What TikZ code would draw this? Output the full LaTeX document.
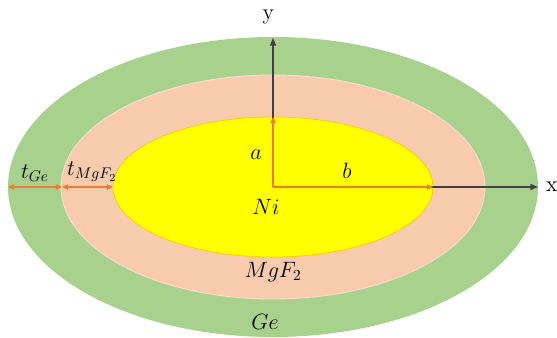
\documentclass[tikz,border=0pt]{standalone}
\usepackage{amsmath}
\usepackage{xcolor}
\usepackage{tikz}
\usetikzlibrary{positioning, arrows.meta}

\definecolor{geGreen}{RGB}{169,209,142}
\definecolor{mgPeach}{RGB}{248,203,173}
\definecolor{niYellow}{RGB}{255,255,0}
\definecolor{dimOrange}{RGB}{237,125,49}
\definecolor{axisGray}{RGB}{64,64,64}

\begin{document}
\begin{tikzpicture}[x=0.65pt, y=-0.65pt,
    axis/.style={draw=axisGray, line width=0.8pt, -{Triangle[length=5pt, width=4pt]}},
    dim/.style={draw=dimOrange, line width=1pt, -{Triangle[length=4pt, width=3.5pt]}},
    dimboth/.style={draw=dimOrange, line width=1pt, {Triangle[length=4pt, width=3.5pt]}-{Triangle[length=4pt, width=3.5pt]}},
    lbl/.style={inner sep=1pt, font=\Large}]
    \useasboundingbox (0,0) rectangle (557,337);

    % Layers
    \fill[geGreen] (273,187) ellipse [x radius=265, y radius=150];
    \filldraw[fill=mgPeach, draw=white!35!mgPeach, line width=0.6pt] (273,187) ellipse [x radius=212, y radius=112];
    \filldraw[fill=niYellow, draw=orange!40!yellow, line width=0.5pt] (273,187) ellipse [x radius=160, y radius=70];

    % Reference points
    \coordinate (o) at (273,187);
    \coordinate (xtip) at (538,187);
    \coordinate (ytip) at (273,38);
    \coordinate (aend) at (273,117);
    \coordinate (bend) at (433,187);
    \coordinate (geleft) at (8,187);
    \coordinate (mgleft) at (62,187);
    \coordinate (nileft) at (113,187);

    % Axes
    \draw[axis] (o) -- (xtip);
    \draw[axis] (o) -- (ytip);
    \node (xlbl) [right=4pt of xtip, lbl] {x};
    \node (ylbl) [above=8pt of ytip, lbl, xshift=-3pt] {y};

    % Dimensions
    \draw[dim] (o) -- (aend);
    \draw[dim] (o) -- (bend);
    \draw[dimboth] (geleft) -- (mgleft);
    \draw[dimboth] (mgleft) -- (nileft);

    % Labels
    \node (alb) at (256,155) [lbl] {\(a\)};
    \node (blb) at (347,171) [lbl] {\(b\)};
    \node (nilb) at (266,207) [lbl] {\(Ni\)};
    \node (mglb) at (273,272) [lbl] {\(MgF_2\)};
    \node (gelb) at (265,322) [lbl] {\(Ge\)};
    \node (tge) at (35,173) [lbl] {\(t_{Ge}\)};
    \node (tmg) at (92,172) [lbl] {\(t_{MgF_2}\)};
\end{tikzpicture}
\end{document}
